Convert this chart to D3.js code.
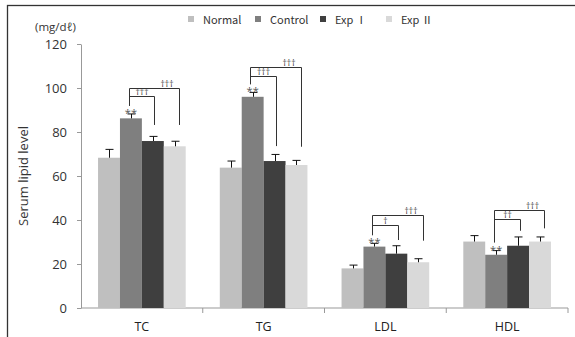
<!DOCTYPE html>
<html lang="en">
<head>
<meta charset="UTF-8">
<title>Serum lipid level</title>
<style>
    body { margin: 0; background: #fff; }
    svg text { font-family: "Open Sans", "Noto Sans", sans-serif; }
</style>
</head>
<body>
<div id="chart" style="width:575px;height:337px;"></div>
<script src="https://cdn.jsdelivr.net/npm/d3@7/dist/d3.min.js"></script>
<script>
// categories and groups
var categories = ["TC", "TG", "LDL", "HDL"];
var groups = ["Normal", "Control", "Exp \u2160", "Exp \u2161"];
var groupColors = ["#bfbfbf", "#7f7f7f", "#3f3f3f", "#d9d9d9"];

// mean values (mg/dl) per group, in category order
var normalMean  = [68.3, 63.8, 18.0, 30.2];
var controlMean = [86.2, 96.0, 27.9, 24.2];
var exp1Mean    = [75.9, 66.8, 24.7, 28.3];
var exp2Mean    = [73.5, 65.0, 20.8, 30.2];

// error (upper bar only)
var normalErr  = [3.8, 3.0, 1.5, 2.7];
var controlErr = [2.0, 2.0, 1.5, 1.9];
var exp1Err    = [2.1, 3.0, 3.6, 4.0];
var exp2Err    = [2.3, 2.1, 1.6, 2.1];

var yTicks = [0, 20, 40, 60, 80, 100, 120];

// significance brackets: Control vs Exp I (inner), Control vs Exp II (outer)
var innerLevel = [96.2, 105.3, 37.9, 40.3];
var outerLevel = [99.9, 109.4, 42.1, 44.4];
var innerEnd   = [83.2, 73.6, 30.9, 35.1];
var outerEnd   = [83.2, 73.3, 30.6, 36.2];
var innerSig   = ["\u2020\u2020\u2020", "\u2020\u2020\u2020", "\u2020", "\u2020\u2020"];
var outerSig   = ["\u2020\u2020\u2020", "\u2020\u2020\u2020", "\u2020\u2020\u2020", "\u2020\u2020\u2020"];
var controlStars = ["**", "**", "**", "**"];

var means = [normalMean, controlMean, exp1Mean, exp2Mean];
var errs = [normalErr, controlErr, exp1Err, exp2Err];

var width = 575, height = 337;
var margin = {left: 81, right: 7, top: 44, bottom: 29};

var svg = d3.select("#chart").append("svg")
    .attr("width", width)
    .attr("height", height);

// frame (cropped at right/bottom)
svg.append("rect")
    .attr("x", 7.5).attr("y", 5.5)
    .attr("width", 600).attr("height", 400)
    .attr("fill", "none")
    .attr("stroke", "#333")
    .attr("stroke-width", 1.3);

var x0 = d3.scaleBand()
    .domain(categories)
    .range([margin.left, width - margin.right])
    .paddingInner(0.28)
    .paddingOuter(0.14);

var x1 = d3.scaleBand()
    .domain(groups)
    .range([0, x0.bandwidth()]);

var y = d3.scaleLinear()
    .domain([0, 120])
    .range([height - margin.bottom, margin.top]);

var bw = x1.bandwidth();

// y axis
var gy = svg.append("g")
    .attr("transform", "translate(" + margin.left + ",0)")
    .call(d3.axisLeft(y).tickValues(yTicks).tickSize(4).tickPadding(10).tickSizeOuter(0));
gy.select(".domain").attr("stroke", "#999");
gy.selectAll(".tick line").attr("stroke", "#999");
gy.selectAll(".tick text")
    .attr("fill", "#333")
    .style("font-size", "13px");

// x axis: baseline with ticks at category boundaries
var xLine = svg.append("g");
xLine.append("line")
    .attr("x1", margin.left).attr("x2", width - margin.right)
    .attr("y1", y(0)).attr("y2", y(0))
    .attr("stroke", "#999");
xLine.selectAll(".bt")
    .data(d3.range(1, categories.length + 1))
    .enter().append("line")
    .attr("x1", function(i){ return margin.left + (width - margin.left - margin.right) * i / categories.length; })
    .attr("x2", function(i){ return margin.left + (width - margin.left - margin.right) * i / categories.length; })
    .attr("y1", y(0)).attr("y2", y(0) + 5)
    .attr("stroke", "#999");
xLine.selectAll(".cl")
    .data(categories)
    .enter().append("text")
    .attr("x", function(d){ return x0(d) + x0.bandwidth() / 2; })
    .attr("y", y(0) + 23)
    .attr("text-anchor", "middle")
    .attr("fill", "#222")
    .style("font-size", "12.5px")
    .text(function(d){ return d; });

// bars
var rows = [];
categories.forEach(function(c, ci){
    groups.forEach(function(g, gi){
        rows.push({cat: c, ci: ci, group: g, gi: gi, v: means[gi][ci], e: errs[gi][ci]});
    });
});

var gBars = svg.append("g");
gBars.selectAll("rect")
    .data(rows)
    .enter().append("rect")
    .attr("x", function(d){ return x0(d.cat) + x1(d.group); })
    .attr("y", function(d){ return y(d.v); })
    .attr("width", bw)
    .attr("height", function(d){ return y(0) - y(d.v); })
    .attr("fill", function(d){ return groupColors[d.gi]; });

// error bars
var gErr = svg.append("g").attr("stroke", "#111").attr("stroke-width", 1);
rows.forEach(function(d){
    var cx = Math.round(x0(d.cat) + x1(d.group) + bw / 2) + 0.5;
    gErr.append("line")
        .attr("x1", cx).attr("x2", cx)
        .attr("y1", y(d.v)).attr("y2", y(d.v + d.e));
    gErr.append("line")
        .attr("x1", cx - 4).attr("x2", cx + 4)
        .attr("y1", y(d.v + d.e)).attr("y2", y(d.v + d.e));
});

// significance marks
var gSig = svg.append("g");
categories.forEach(function(c, ci){
    var xl = Math.round(x0(c) + x1(groups[1]) + bw * 0.4) + 0.5;
    var xi = Math.round(x0(c) + x1(groups[2]) + bw * 0.57) + 0.5;
    var xo = Math.round(x0(c) + x1(groups[3]) + bw * 0.7) + 0.5;
    var capY = y(controlMean[ci] + controlErr[ci]);
    var yi = Math.round(y(innerLevel[ci])) + 0.5;
    var yo = Math.round(y(outerLevel[ci])) + 0.5;

    var path = d3.path();
    path.moveTo(xl, capY - 8); path.lineTo(xl, yo); path.lineTo(xo, yo); path.lineTo(xo, y(outerEnd[ci]));
    path.moveTo(xl, yi); path.lineTo(xi, yi); path.lineTo(xi, y(innerEnd[ci]));
    gSig.append("path")
        .attr("d", path.toString())
        .attr("fill", "none")
        .attr("stroke", "#333")
        .attr("stroke-width", 1);

    gSig.append("text")
        .attr("x", x0(c) + x1(groups[1]) + bw / 2)
        .attr("y", capY + 3)
        .attr("text-anchor", "middle")
        .attr("fill", "#555")
        .style("font-size", "11px")
        .text(controlStars[ci]);

    gSig.append("text")
        .attr("x", (xl + xi) / 2)
        .attr("y", yi - 1.5)
        .attr("text-anchor", "middle")
        .attr("fill", "#333")
        .style("font-size", "8.5px")
        .text(innerSig[ci]);

    gSig.append("text")
        .attr("x", (xi + xo) / 2)
        .attr("y", yo - 1.5)
        .attr("text-anchor", "middle")
        .attr("fill", "#333")
        .style("font-size", "8.5px")
        .text(outerSig[ci]);
});

// axis title and unit
svg.append("text")
    .attr("transform", "translate(28," + (y(0) + y(120)) / 2 + ") rotate(-90)")
    .attr("text-anchor", "middle")
    .attr("fill", "#333")
    .style("font-size", "13px")
    .text("Serum lipid level");

svg.append("text")
    .attr("x", 35).attr("y", 31)
    .attr("fill", "#333")
    .style("font-size", "11.5px")
    .text("(mg/d\u2113)");

// legend
var legendX = [188, 255, 320, 386];
var gLeg = svg.append("g");
groups.forEach(function(g, gi){
    gLeg.append("rect")
        .attr("x", legendX[gi]).attr("y", 16)
        .attr("width", 6).attr("height", 6)
        .attr("fill", groupColors[gi]);
    gLeg.append("text")
        .attr("x", legendX[gi] + 15).attr("y", 23.5)
        .attr("fill", "#333")
        .style("font-family", "'Noto Sans CJK KR', 'Open Sans', sans-serif")
        .style("font-size", "11px")
        .text(g);
});
</script>
</body>
</html>
